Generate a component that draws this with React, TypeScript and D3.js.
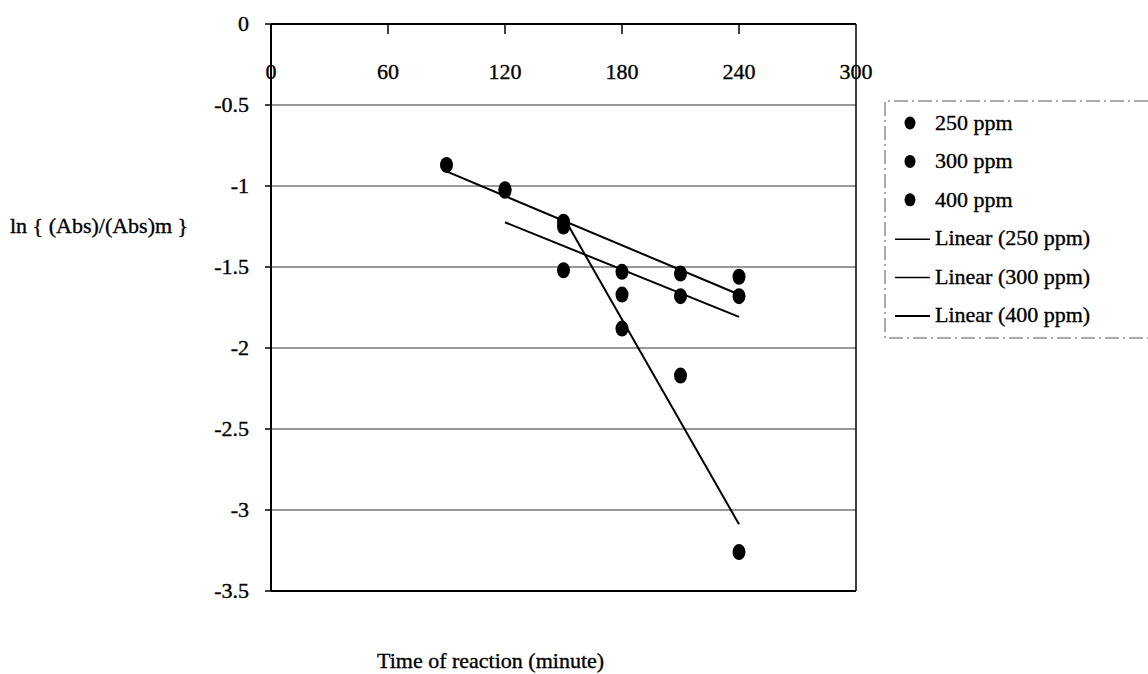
import React from "react";
import * as d3 from "d3";

const times250 = [90, 120, 150, 180, 210, 240];
const vals250 = [-0.87, -1.02, -1.22, -1.53, -1.54, -1.56];
const times300 = [120, 150, 180, 210, 240];
const vals300 = [-1.03, -1.52, -1.67, -1.68, -1.68];
const times400 = [150, 180, 210, 240];
const vals400 = [-1.25, -1.88, -2.17, -3.26];

const seriesNames = ["250 ppm", "300 ppm", "400 ppm"];
const xTicks = [0, 60, 120, 180, 240, 300];
const yTicks = [0, -0.5, -1, -1.5, -2, -2.5, -3, -3.5];
const yTitle = "ln { (Abs)/(Abs)m }";
const xTitle = "Time of reaction (minute)";

const W = 1148;
const H = 674;
const FONT = "'Liberation Serif', 'Times New Roman', serif";

function fit(xs: number[], ys: number[]) {
  const mx = d3.mean(xs)!;
  const my = d3.mean(ys)!;
  let num = 0;
  let den = 0;
  xs.forEach((x, i) => {
    num += (x - mx) * (ys[i] - my);
    den += (x - mx) * (x - mx);
  });
  const slope = num / den;
  const b = my - slope * mx;
  const x0 = d3.min(xs)!;
  const x1 = d3.max(xs)!;
  return [
    [x0, b + slope * x0],
    [x1, b + slope * x1],
  ] as [number, number][];
}

export default function App() {
  const x = d3.scaleLinear().domain([0, 300]).range([271, 856]);
  const y = d3.scaleLinear().domain([-3.5, 0]).range([591, 24]);
  const series = [
    { t: times250, v: vals250 },
    { t: times300, v: vals300 },
    { t: times400, v: vals400 },
  ];
  const line = d3
    .line<[number, number]>()
    .x((d) => x(d[0]))
    .y((d) => y(d[1]));

  const legendItems = [
    ...seriesNames.map((n) => ({ label: n, kind: "dot" })),
    ...seriesNames.map((n) => ({ label: `Linear (${n})`, kind: "line" })),
  ];

  const textProps = { fontSize: 22, fill: "#000", stroke: "#000", strokeWidth: 0.35 };

  return (
    <svg
      width={W}
      height={H}
      style={{ position: "absolute", left: 0, top: 0, background: "#fff" }}
      fontFamily={FONT}
    >
      <rect x={0} y={0} width={W} height={H} fill="#fff" />
      {/* gridlines */}
      {yTicks
        .filter((t) => t !== 0 && t !== -3.5)
        .map((t) => (
          <line
            key={"g" + t}
            x1={x(0)}
            x2={x(300)}
            y1={y(t)}
            y2={y(t)}
            stroke="#333"
            strokeWidth={1}
          />
        ))}
      {/* plot frame */}
      <line x1={x(0)} x2={x(300)} y1={y(0)} y2={y(0)} stroke="#000" strokeWidth={2} />
      <line x1={x(0)} x2={x(300)} y1={y(-3.5)} y2={y(-3.5)} stroke="#000" strokeWidth={2} />
      <line x1={x(0)} x2={x(0)} y1={y(0)} y2={y(-3.5)} stroke="#000" strokeWidth={2} />
      <line x1={x(300)} x2={x(300)} y1={y(0)} y2={y(-3.5)} stroke="#000" strokeWidth={1.5} />
      {/* x ticks (hanging from top axis) */}
      {xTicks.map((t) => (
        <g key={"xt" + t}>
          {t !== 0 && t !== 300 && (
            <line x1={x(t)} x2={x(t)} y1={y(0)} y2={y(0) + 10} stroke="#000" strokeWidth={1.5} />
          )}
          <text x={x(t)} y={y(0) + 55} textAnchor="middle" {...textProps}>
            {t}
          </text>
        </g>
      ))}
      {/* y ticks */}
      {yTicks.map((t) => (
        <g key={"yt" + t}>
          <line x1={x(0) - 6} x2={x(0)} y1={y(t)} y2={y(t)} stroke="#000" strokeWidth={1.5} />
          <text x={249} y={y(t) + 7} textAnchor="end" {...textProps}>
            {t}
          </text>
        </g>
      ))}
      {/* trend lines */}
      {series.map((s, i) => (
        <path
          key={"tl" + i}
          d={line(fit(s.t, s.v)) || ""}
          fill="none"
          stroke="#000"
          strokeWidth={2}
        />
      ))}
      {/* points */}
      {series.map((s, i) =>
        s.t.map((t, j) => (
          <ellipse
            key={`p${i}-${j}`}
            cx={x(t)}
            cy={y(s.v[j])}
            rx={6.5}
            ry={8}
            fill="#000"
          />
        ))
      )}
      {/* axis titles */}
      <text x={10} y={233} {...textProps}>
        {yTitle}
      </text>
      <text x={377} y={668} {...textProps}>
        {xTitle}
      </text>
      {/* legend */}
      <path
        d={`M ${W} 101 H 885 V 338 H ${W}`}
        fill="none"
        stroke="#555"
        strokeWidth={1}
        strokeDasharray="14 4 2 4"
      />
      {legendItems.map((it, i) => {
        const cy = 123 + i * 38.4;
        return (
          <g key={"lg" + i}>
            {it.kind === "dot" ? (
              <ellipse cx={910} cy={cy} rx={5.5} ry={6.5} fill="#000" />
            ) : (
              <line x1={895} x2={930} y1={cy + 1} y2={cy + 1} stroke="#000" strokeWidth={i === 5 ? 2 : 1.5} />
            )}
            <text x={935} y={cy + 7} {...textProps}>
              {it.label}
            </text>
          </g>
        );
      })}
    </svg>
  );
}
